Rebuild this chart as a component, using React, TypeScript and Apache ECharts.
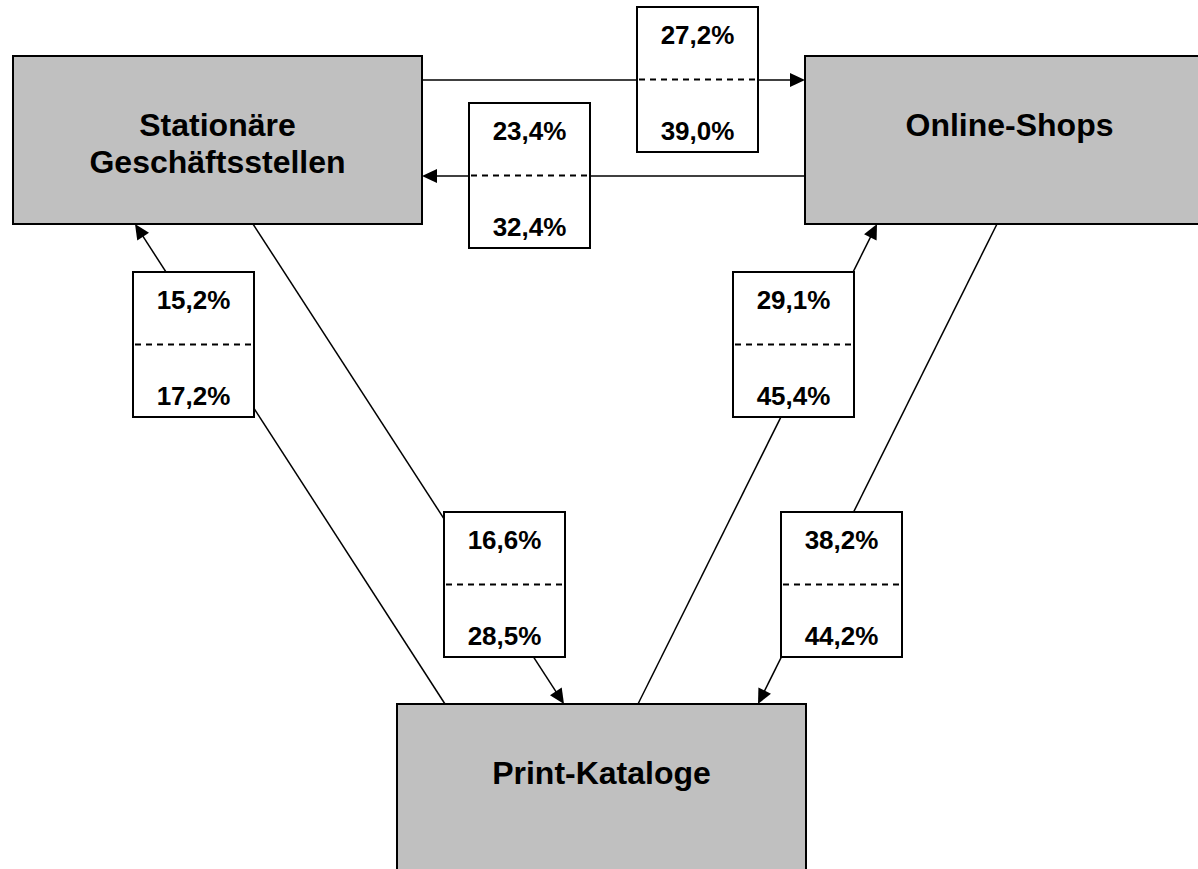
import React, { useEffect, useRef } from "react";
import * as echarts from "echarts";

// ---- content ----
const channels = ["Stationäre\nGeschäftsstellen", "Online-Shops", "Print-Kataloge"];
const flowSource = [0, 1, 2, 2, 0, 1];
const flowTarget = [1, 0, 0, 1, 2, 2];
const shareUpper = [27.2, 23.4, 15.2, 29.1, 16.6, 38.2];
const shareLower = [39.0, 32.4, 17.2, 45.4, 28.5, 44.2];

// ---- layout (canvas pixel space 1198 x 869) ----
const W = 1198;
const H = 869;
const channelPos = [
  [13, 56],
  [805, 56],
  [397, 704],
];
const CH_W = 409;
const CH_H = 168;
const flowEnds = [
  [422, 80, 805, 80],
  [805, 176, 422, 176],
  [445, 704, 135, 224],
  [638, 704, 877, 224],
  [253, 224, 564, 704],
  [997, 224, 758, 704],
];
const labelPos = [
  [637, 7],
  [469, 103],
  [133, 272],
  [733, 272],
  [444, 512],
  [781, 512],
];
const LB_W = 121;
const LB_H = 145;

const FONT = '"Liberation Sans", Arial, Helvetica, sans-serif';
const fmt = (v: number) => v.toFixed(1).replace(".", ",") + "%";

function textEl(text: string, x: number, y: number, size: number, lineHeight?: number) {
  return {
    type: "text",
    style: {
      text,
      x,
      y,
      fill: "#000",
      fontSize: size,
      fontWeight: "bold",
      fontFamily: FONT,
      lineHeight: lineHeight || size * 1.15,
      align: "center",
      verticalAlign: "middle",
      textAlign: "center",
      textVerticalAlign: "middle",
    },
  };
}

export default function App() {
  const ref = useRef<HTMLDivElement>(null);
  useEffect(() => {
    if (!ref.current) return;
    const chart = echarts.init(ref.current, null, { renderer: "svg" });

    const edgeData = flowEnds.map((e, i) => ({
      name: channels[flowSource[i]] + " → " + channels[flowTarget[i]],
      value: e,
    }));
    const labelData = labelPos.map((p, i) => ({
      name: fmt(shareUpper[i]) + " / " + fmt(shareLower[i]),
      value: [p[0], p[1], LB_W, LB_H],
    }));
    const nodeData = channelPos.map((p, i) => ({
      name: channels[i],
      value: [p[0], p[1], CH_W, CH_H],
    }));

    chart.setOption({
      animation: false,
      backgroundColor: "#ffffff",
      grid: { left: 0, right: 0, top: 0, bottom: 0 },
      xAxis: { type: "value", min: 0, max: W, show: false },
      yAxis: { type: "value", min: 0, max: H, inverse: true, show: false },
      series: [
        {
          type: "custom",
          name: "flows",
          z: 1,
          clip: false,
          data: edgeData,
          renderItem: (params: any, api: any) => {
            const p = api.coord([api.value(0), api.value(1)]);
            const q = api.coord([api.value(2), api.value(3)]);
            const dx = q[0] - p[0];
            const dy = q[1] - p[1];
            const len = Math.sqrt(dx * dx + dy * dy);
            const ux = dx / len;
            const uy = dy / len;
            const aL = 15;
            const aW = 7;
            const bx = q[0] - ux * aL;
            const by = q[1] - uy * aL;
            return {
              type: "group",
              children: [
                {
                  type: "line",
                  shape: { x1: p[0], y1: p[1], x2: bx + ux * 2, y2: by + uy * 2 },
                  style: { stroke: "#000", lineWidth: 1.5 },
                },
                {
                  type: "polygon",
                  shape: {
                    points: [
                      [q[0], q[1]],
                      [bx - uy * aW, by + ux * aW],
                      [bx + uy * aW, by - ux * aW],
                    ],
                  },
                  style: { fill: "#000" },
                },
              ],
            };
          },
        },
        {
          type: "custom",
          name: "shares",
          z: 2,
          clip: false,
          data: labelData,
          renderItem: (params: any, api: any) => {
            const i = params.dataIndex;
            const p0 = api.coord([api.value(0), api.value(1)]);
            const p1 = api.coord([api.value(0) + api.value(2), api.value(1) + api.value(3)]);
            const cx = (p0[0] + p1[0]) / 2;
            const midY = (p0[1] + p1[1]) / 2;
            return {
              type: "group",
              children: [
                {
                  type: "rect",
                  shape: { x: p0[0], y: p0[1], width: p1[0] - p0[0], height: p1[1] - p0[1] },
                  style: { fill: "#fff", stroke: "#000", lineWidth: 2 },
                },
                {
                  type: "line",
                  shape: { x1: p0[0] + 2, y1: midY, x2: p1[0], y2: midY },
                  style: { stroke: "#000", lineWidth: 2, lineDash: [6, 5] },
                },
                textEl(fmt(shareUpper[i]), cx, p0[1] + 28, 26),
                textEl(fmt(shareLower[i]), cx, p0[1] + 124, 26),
              ],
            };
          },
        },
        {
          type: "custom",
          name: "channels",
          z: 3,
          clip: false,
          data: nodeData,
          renderItem: (params: any, api: any) => {
            const i = params.dataIndex;
            const p0 = api.coord([api.value(0), api.value(1)]);
            const p1 = api.coord([api.value(0) + api.value(2), api.value(1) + api.value(3)]);
            const lines = channels[i].split("\n").length;
            return {
              type: "group",
              children: [
                {
                  type: "rect",
                  shape: { x: p0[0], y: p0[1], width: p1[0] - p0[0], height: p1[1] - p0[1] },
                  style: { fill: "#c0c0c0", stroke: "#000", lineWidth: 2 },
                },
                textEl(channels[i], (p0[0] + p1[0]) / 2, p0[1] + 69 + ((lines - 1) * 37) / 2, 32, 37),
              ],
            };
          },
        },
      ],
    });
    return () => chart.dispose();
  }, []);

  return (
    <div
      ref={ref}
      style={{ position: "absolute", left: 0, top: 0, width: W, height: H, background: "#fff" }}
    />
  );
}
